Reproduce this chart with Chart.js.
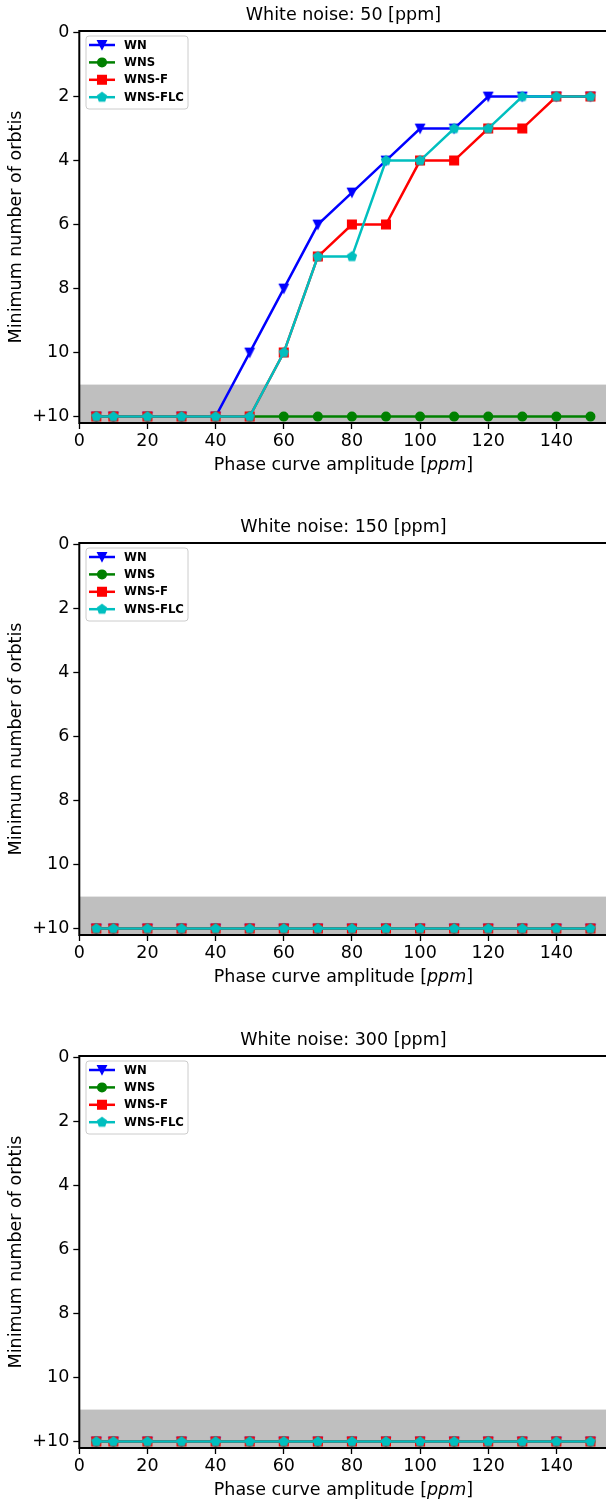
<!DOCTYPE html>
<html>
<head>
<meta charset="utf-8">
<script src="https://cdn.jsdelivr.net/npm/chart.js"></script>
<style>
  html, body { margin: 0; padding: 0; background: #fff; }
  body { width: 606px; height: 1503px; overflow: hidden; position: relative; }
  canvas { position: absolute; left: 0; }
</style>
</head>
<body>
<canvas id="c50" width="615" height="478" style="top:0px"></canvas>
<canvas id="c150" width="615" height="478" style="top:512px"></canvas>
<canvas id="c300" width="615" height="478" style="top:1025px"></canvas>
<script>
const amplitudes = [5, 10, 20, 30, 40, 50, 60, 70, 80, 90, 100, 110, 120, 130, 140, 150];

// minimum number of orbits per method, 12 is the "+10" (not reached) row
const wn50     = [12, 12, 12, 12, 12, 10, 8, 6, 5, 4, 3, 3, 2, 2, 2, 2];
const wns50    = [12, 12, 12, 12, 12, 12, 12, 12, 12, 12, 12, 12, 12, 12, 12, 12];
const wnsF50   = [12, 12, 12, 12, 12, 12, 10, 7, 6, 6, 4, 4, 3, 3, 2, 2];
const wnsFLC50 = [12, 12, 12, 12, 12, 12, 10, 7, 7, 4, 4, 3, 3, 2, 2, 2];

const wn150     = [12, 12, 12, 12, 12, 12, 12, 12, 12, 12, 12, 12, 12, 12, 12, 12];
const wns150    = [12, 12, 12, 12, 12, 12, 12, 12, 12, 12, 12, 12, 12, 12, 12, 12];
const wnsF150   = [12, 12, 12, 12, 12, 12, 12, 12, 12, 12, 12, 12, 12, 12, 12, 12];
const wnsFLC150 = [12, 12, 12, 12, 12, 12, 12, 12, 12, 12, 12, 12, 12, 12, 12, 12];

const wn300     = [12, 12, 12, 12, 12, 12, 12, 12, 12, 12, 12, 12, 12, 12, 12, 12];
const wns300    = [12, 12, 12, 12, 12, 12, 12, 12, 12, 12, 12, 12, 12, 12, 12, 12];
const wnsF300   = [12, 12, 12, 12, 12, 12, 12, 12, 12, 12, 12, 12, 12, 12, 12, 12];
const wnsFLC300 = [12, 12, 12, 12, 12, 12, 12, 12, 12, 12, 12, 12, 12, 12, 12, 12];

const seriesNames  = ['WN', 'WNS', 'WNS-F', 'WNS-FLC'];
const seriesColors = ['#0000ff', '#008000', '#ff0000', '#00bfbf'];

const xTickValues = [0, 20, 40, 60, 80, 100, 120, 140];
const yTickValues = [0, 2, 4, 6, 8, 10, 12];
const yTickLabels = ['0', '2', '4', '6', '8', '10', '+10'];
const shadeFrom = 11;

const panels = [
  { id: 'c50',  noise: 50,  series: [wn50, wns50, wnsF50, wnsFLC50] },
  { id: 'c150', noise: 150, series: [wn150, wns150, wnsF150, wnsFLC150] },
  { id: 'c300', noise: 300, series: [wn300, wns300, wnsF300, wnsFLC300] },
];

const FONT = 'DejaVu Sans';
const FS = 17.5;
Chart.defaults.color = '#000';
Chart.defaults.font.family = FONT;

// small canvases for the marker shapes Chart.js has no style for
function markerCanvas(color, path) {
  const c = document.createElement('canvas');
  c.width = 14; c.height = 14;
  const ctx = c.getContext('2d');
  ctx.translate(7, 7);
  ctx.beginPath();
  path(ctx);
  ctx.closePath();
  ctx.fillStyle = color;
  ctx.strokeStyle = color;
  ctx.lineWidth = 1.4;
  ctx.fill();
  ctx.stroke();
  return c;
}
const triDown = ctx => { ctx.moveTo(-4.3, -4.3); ctx.lineTo(4.3, -4.3); ctx.lineTo(0, 4.3); };
const pentagon = ctx => {
  for (let k = 0; k < 5; k++) {
    const a = -Math.PI / 2 + k * 2 * Math.PI / 5;
    const px = 4.6 * Math.cos(a), py = 4.6 * Math.sin(a);
    if (k) ctx.lineTo(px, py); else ctx.moveTo(px, py);
  }
};
const pointStyles = [markerCanvas(seriesColors[0], triDown), 'circle', 'rect', markerCanvas(seriesColors[3], pentagon)];
const pointRadii = [5, 4.3, 6.1, 5];

function drawMarker(ctx, ds, x, y) {
  const st = ds.pointStyle;
  ctx.save();
  ctx.fillStyle = ds.backgroundColor;
  ctx.strokeStyle = ds.borderColor;
  ctx.lineWidth = ds.pointBorderWidth;
  if (typeof st === 'object') {
    ctx.drawImage(st, x - st.width / 2, y - st.height / 2);
  } else if (st === 'circle') {
    ctx.beginPath();
    ctx.arc(x, y, ds.pointRadius, 0, Math.PI * 2);
    ctx.fill(); ctx.stroke();
  } else {
    const s = ds.pointRadius * Math.SQRT1_2;
    ctx.beginPath();
    ctx.rect(x - s, y - s, 2 * s, 2 * s);
    ctx.fill(); ctx.stroke();
  }
  ctx.restore();
}

// grey band for runs that never reached the threshold
const shadePlugin = {
  id: 'shade',
  beforeDatasetsDraw(chart) {
    const { ctx, chartArea: a, scales: { y } } = chart;
    const top = y.getPixelForValue(shadeFrom);
    ctx.save();
    ctx.fillStyle = '#bfbfbf';
    ctx.fillRect(a.left, top, a.right - a.left, a.bottom - top);
    ctx.restore();
  }
};

const framePlugin = {
  id: 'frame',
  afterDatasetsDraw(chart) {
    const { ctx, chartArea: a } = chart;
    ctx.save();
    ctx.strokeStyle = '#000';
    ctx.lineWidth = 2;
    ctx.strokeRect(a.left, a.top, a.right - a.left, a.bottom - a.top);
    ctx.restore();
  }
};

// x title with the italic unit
const xTitlePlugin = {
  id: 'xTitle',
  afterDraw(chart) {
    const { ctx, chartArea: a, scales: { x } } = chart;
    const parts = [['Phase curve amplitude [', ''], ['ppm', 'italic '], [']', '']];
    ctx.save();
    ctx.fillStyle = '#000';
    ctx.textBaseline = 'middle';
    ctx.textAlign = 'left';
    let total = 0;
    parts.forEach(p => { ctx.font = p[1] + FS + 'px "' + FONT + '"'; total += ctx.measureText(p[0]).width; });
    let cx = (a.left + a.right) / 2 - total / 2;
    const cy = x.bottom - 13;
    parts.forEach(p => {
      ctx.font = p[1] + FS + 'px "' + FONT + '"';
      ctx.fillText(p[0], cx, cy);
      cx += ctx.measureText(p[0]).width;
    });
    ctx.restore();
  }
};

const legendPlugin = {
  id: 'boxLegend',
  afterDraw(chart) {
    const { ctx, chartArea: a } = chart;
    const bx = a.left + 6.7, by = a.top + 5, bw = 102, bh = 73;
    ctx.save();
    ctx.beginPath();
    ctx.roundRect(bx, by, bw, bh, 3);
    ctx.fillStyle = 'rgba(255,255,255,0.8)';
    ctx.fill();
    ctx.strokeStyle = '#cccccc';
    ctx.lineWidth = 1;
    ctx.stroke();
    ctx.font = 'bold 11.7px "' + FONT + '"';
    ctx.textBaseline = 'middle';
    ctx.textAlign = 'left';
    chart.data.datasets.forEach((ds, k) => {
      const ry = by + 9 + k * 17.4;
      ctx.strokeStyle = ds.borderColor;
      ctx.lineWidth = ds.borderWidth;
      ctx.beginPath();
      ctx.moveTo(bx + 3, ry);
      ctx.lineTo(bx + 29, ry);
      ctx.stroke();
      drawMarker(ctx, ds, bx + 16, ry);
      ctx.fillStyle = '#000';
      ctx.fillText(ds.label, bx + 38, ry + 0.5);
    });
    ctx.restore();
  }
};

panels.forEach(p => {
  new Chart(document.getElementById(p.id), {
    type: 'line',
    plugins: [shadePlugin, framePlugin, xTitlePlugin, legendPlugin],
    data: {
      datasets: seriesNames.map((name, k) => ({
        label: name,
        data: amplitudes.map((amp, i) => ({ x: amp, y: p.series[k][i] })),
        borderColor: seriesColors[k],
        backgroundColor: seriesColors[k],
        borderWidth: 2.5,
        pointStyle: pointStyles[k],
        pointRadius: pointRadii[k],
        pointBorderWidth: 1.4,
        tension: 0,
        order: seriesNames.length - k,
        clip: false,
      }))
    },
    options: {
      responsive: false,
      animation: false,
      events: [],
      layout: { padding: { left: 0, right: 3, top: 0, bottom: 0 } },
      plugins: {
        legend: { display: false },
        tooltip: { enabled: false },
        title: {
          display: true,
          text: 'White noise: ' + p.noise + ' [ppm]',
          fullSize: false,
          color: '#000',
          font: { family: FONT, size: FS, weight: 'normal' },
          padding: { top: 4.5, bottom: 5.5 },
        },
      },
      scales: {
        x: {
          type: 'linear',
          min: 0,
          max: 155,
          afterBuildTicks: s => { s.ticks = xTickValues.map(v => ({ value: v })); },
          afterFit: s => { s.height = 55; },
          border: { display: false },
          grid: { drawOnChartArea: false, drawTicks: true, tickLength: 6, tickWidth: 1.3, tickColor: '#000' },
          ticks: { color: '#000', font: { family: FONT, size: FS }, padding: 1.5, maxRotation: 0 },
        },
        y: {
          type: 'linear',
          reverse: true,
          min: -0.05,
          max: 12.2,
          afterBuildTicks: s => { s.ticks = yTickValues.map(v => ({ value: v })); },
          afterFit: s => { s.width = 79.3; },
          border: { display: false },
          grid: { drawOnChartArea: false, drawTicks: true, tickLength: 6, tickWidth: 1.3, tickColor: '#000' },
          ticks: {
            color: '#000',
            font: { family: FONT, size: FS },
            padding: 4,
            callback: v => yTickLabels[yTickValues.indexOf(v)],
          },
          title: {
            display: true,
            text: 'Minimum number of orbtis',
            color: '#000',
            font: { family: FONT, size: FS },
            padding: { top: 5.5, bottom: 0 },
          },
        },
      },
    },
  });
});
</script>
</body>
</html>
